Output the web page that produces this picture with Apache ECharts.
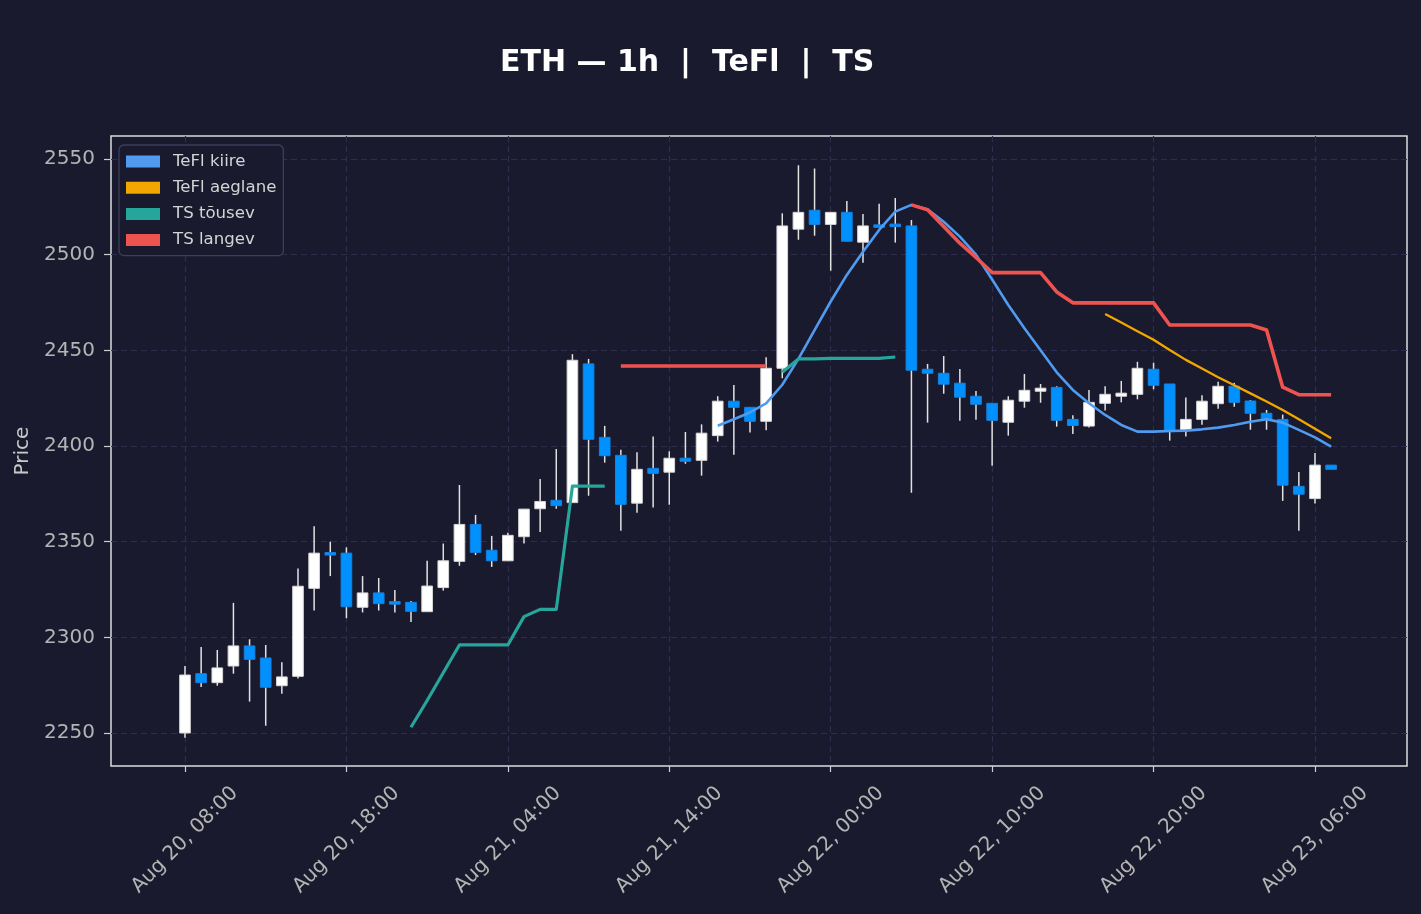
<!DOCTYPE html>
<html>
<head>
<meta charset="utf-8">
<title>ETH 1h TeFl TS</title>
<script src="https://cdn.jsdelivr.net/npm/echarts/dist/echarts.min.js"></script>
<style>
  html, body { margin: 0; padding: 0; background: #1a1a2e; }
  #chart { width: 1421px; height: 914px; }
</style>
</head>
<body>
<div id="chart"></div>
<script>
"use strict";

// hour 0 = Aug 20, 08:00 ; one candle per hour
var candleOpen = [
  2250, 2281, 2276.3, 2285, 2295.5, 2289.2, 2274.7, 2279.6, 2325.6, 2344,
  2344, 2315.7, 2323.2, 2318.4, 2318.3, 2313.4, 2326, 2339.7, 2359, 2345.5,
  2340, 2352.6, 2367.2, 2371.6, 2370.4, 2442.9, 2404.5, 2395.1, 2370.1, 2388.3,
  2386.3, 2393.6, 2392.5, 2405.4, 2423.4, 2420.2, 2412.9, 2440.6, 2513.3, 2523.2,
  2515.8, 2522.1, 2506.5, 2515.2, 2515.6, 2515, 2440.1, 2438, 2432.8, 2426,
  2422.3, 2412.4, 2423.4, 2428.6, 2430.6, 2413.9, 2410.4, 2422.3, 2426, 2427,
  2440.1, 2432.4, 2408.4, 2413.9, 2422.1, 2431.2, 2423.5, 2417.1, 2413.9, 2378.9,
  2372.5, 2390
];
var candleClose = [
  2280.3, 2276.3, 2284, 2295.5, 2288.5, 2273.9, 2279.3, 2326.7, 2344, 2343.3,
  2316, 2323.2, 2317.6, 2317.6, 2313.6, 2326.8, 2340, 2359, 2344.4, 2340,
  2353.3, 2367, 2371, 2368.8, 2444.8, 2403.5, 2394.9, 2369.5, 2387.8, 2385.7,
  2393.6, 2392, 2406.7, 2423.4, 2420.2, 2412.9, 2440.6, 2515, 2522.1, 2515.8,
  2522.1, 2507, 2515, 2514.6, 2515, 2439.6, 2438, 2432.3, 2425.5, 2421.8,
  2413.4, 2423.9, 2429.1, 2430.2, 2413.4, 2410.7, 2422.8, 2427, 2427.6, 2440.6,
  2431.7, 2407.5, 2413.9, 2423.4, 2431.2, 2422.8, 2417.1, 2413.9, 2379.5, 2374.8,
  2390, 2387.8
];
var candleLow = [
  2247.5, 2274, 2274.7, 2281, 2266.4, 2253.8, 2270.5, 2278.5, 2314, 2332,
  2310, 2313, 2314, 2313, 2308, 2313.4, 2324.4, 2337.4, 2343, 2336.8,
  2340, 2349, 2355, 2367.2, 2370.4, 2374, 2391.3, 2355.7, 2365.1, 2367.8,
  2369.3, 2390.7, 2384.5, 2402.3, 2395.4, 2407, 2408.2, 2435.4, 2507.8, 2509.9,
  2491.6, 2507, 2495.8, 2514.6, 2506.3, 2375.6, 2412.2, 2427.3, 2413.2, 2413.7,
  2389.7, 2405.4, 2420, 2422.6, 2410.1, 2406.3, 2409.6, 2418.5, 2422.8, 2424.4,
  2429.6, 2402.8, 2404.9, 2411.1, 2419.5, 2420.5, 2408.5, 2408.5, 2371.3, 2355.7,
  2369.9, 2387.8
];
var candleHigh = [
  2285, 2295, 2293.4, 2318, 2299, 2296, 2287, 2336, 2358, 2350,
  2347, 2332, 2331, 2324.7, 2319, 2340, 2349, 2379.6, 2364, 2353,
  2354.7, 2367, 2382.8, 2398.4, 2448, 2445.5, 2410.5, 2398, 2396.7, 2405,
  2397.2, 2407.3, 2411.3, 2426, 2431.9, 2420.2, 2446.4, 2521.6, 2546.7, 2545,
  2522.1, 2528, 2521.3, 2526.6, 2529.6, 2518.1, 2442.9, 2447, 2440.2, 2428.7,
  2422.3, 2426, 2437.6, 2432.4, 2431.2, 2416, 2429.3, 2431.2, 2434, 2444,
  2443.5, 2432.4, 2425.3, 2426.5, 2433.6, 2433, 2424, 2418.8, 2416.4, 2386.4,
  2396.3, 2390
];

// TeFl kiire from hour 33
var fastStart = 33;
var fastLine = [
  2410.6, 2414, 2417.5, 2422.3, 2432, 2445.5, 2460.6, 2475.5, 2489.4, 2501.5,
  2512.9, 2522.5, 2526, 2523.7, 2517.2, 2509.4, 2500, 2487, 2473.7, 2461.5,
  2450, 2438.5, 2429.3, 2422.3, 2416.2, 2411, 2407.5, 2407.5, 2407.8, 2408,
  2408.7, 2409.6, 2411, 2412.7, 2414, 2412.2, 2408.4, 2404.5, 2399.6
];
// TeFl aeglane from hour 57
var slowStart = 57;
var slowLine = [
  2469, 2464.5, 2460, 2455.5, 2450.2, 2445, 2440.5, 2435.9, 2431.7, 2427.5,
  2423.2, 2418.8, 2414, 2409, 2404
];
// TS tõusev from hour 14 (null = no value)
var tsUpStart = 14;
var tsUp = [
  2253, 2267, 2281.5, 2296, 2296, 2296, 2296, 2310.8, 2314.6, 2314.6,
  2379, 2379, 2379, null, null, null, null, null, null, null,
  null, null, null, 2438.5, 2445.5, 2445.5, 2445.8, 2445.8, 2445.8, 2445.8,
  2446.5
];
// TS langev from hour 27
var tsDownStart = 27;
var tsDown = [
  2441.8, 2441.8, 2441.8, 2441.8, 2441.8, 2441.8, 2441.8, 2441.8, 2441.8, 2441.8,
  null, null, null, null, null, null, null, null, 2526, 2523.4,
  2514.7, 2506, 2498.5, 2490.6, 2490.6, 2490.6, 2490.6, 2480.5, 2474.8, 2474.8,
  2474.8, 2474.8, 2474.8, 2474.8, 2463.2, 2463.2, 2463.2, 2463.2, 2463.2, 2463.2,
  2460.6, 2430.7, 2426.8, 2426.8, 2426.8
];

var xTickHours = [0, 10, 20, 30, 40, 50, 60, 70];
var xTickLabels = [
  "Aug 20, 08:00", "Aug 20, 18:00", "Aug 21, 04:00", "Aug 21, 14:00",
  "Aug 22, 00:00", "Aug 22, 10:00", "Aug 22, 20:00", "Aug 23, 06:00"
];
var yTicks = [2250, 2300, 2350, 2400, 2450, 2500, 2550];

var FONT = "DejaVu Sans";
var UP_COLOR = "#ffffff";
var DOWN_COLOR = "#0091ff";
var WICK_COLOR = "#e2e2e2";

function toPairs(start, values) {
  return values.map(function (v, i) {
    return [start + i, v];
  });
}

var candleData = candleOpen.map(function (o, i) {
  return [i, o, candleClose[i], candleLow[i], candleHigh[i]];
});

function renderCandle(params, api) {
  var x = api.value(0);
  var o = api.value(1);
  var c = api.value(2);
  var pO = api.coord([x, o]);
  var pC = api.coord([x, c]);
  var pL = api.coord([x, api.value(3)]);
  var pH = api.coord([x, api.value(4)]);
  var w = api.size([1, 0])[0] * 0.66;
  var up = c > o;
  var top = Math.min(pO[1], pC[1]);
  var h = Math.abs(pO[1] - pC[1]);
  if (h < 2.5) {
    top = (pO[1] + pC[1]) / 2 - 1.25;
    h = 2.5;
  }
  return {
    type: "group",
    children: [{
      type: "line",
      shape: { x1: pH[0], y1: pH[1], x2: pL[0], y2: pL[1] },
      style: { stroke: WICK_COLOR, lineWidth: 1.5 }
    }, {
      type: "rect",
      shape: { x: pO[0] - w / 2, y: top, width: w, height: h },
      style: {
        fill: up ? UP_COLOR : DOWN_COLOR,
        stroke: up ? "#d6d6d6" : "#1580e0",
        lineWidth: 1
      }
    }]
  };
}

function lineSeries(name, color, width, data) {
  return {
    name: name,
    type: "line",
    data: data,
    showSymbol: false,
    symbol: "none",
    connectNulls: false,
    z: 4,
    color: color,
    itemStyle: { color: color },
    lineStyle: { color: color, width: width, cap: "butt", join: "round" },
    emphasis: { disabled: true }
  };
}

var chart = echarts.init(document.getElementById("chart"), null, { renderer: "canvas" });

var option = {
  backgroundColor: "#1a1a2e",
  animation: false,
  title: {
    text: "ETH \u2014 1h  |  TeFl  |  TS",
    left: 500,
    top: 48,
    padding: 0,
    textStyle: { color: "#ffffff", fontFamily: FONT, fontWeight: "bold", fontSize: 30 }
  },
  legend: {
    orient: "vertical",
    left: 119,
    top: 145,
    padding: [8, 7, 7, 7],
    itemWidth: 34,
    itemHeight: 12,
    itemGap: 9.2,
    icon: "rect",
    backgroundColor: "#1a1a2e",
    borderColor: "#3d3d5c",
    borderWidth: 1.3,
    borderRadius: 5,
    data: ["TeFl kiire", "TeFl aeglane", "TS t\u00f5usev", "TS langev"],
    textStyle: { color: "#d4d4d4", fontFamily: FONT, fontSize: 16.6, padding: [0, 0, 0, 8] }
  },
  grid: {
    left: 111,
    right: 14,
    top: 136,
    bottom: 148,
    show: true,
    borderColor: "#dcdcdc",
    borderWidth: 1.5,
    backgroundColor: "transparent",
    containLabel: false,
    outerBoundsMode: "none"
  },
  xAxis: {
    type: "value",
    min: -4.584,
    max: 75.7,
    axisLine: { show: false, onZero: false },
    axisTick: { show: true, length: 6, customValues: xTickHours, lineStyle: { color: "#cfcfcf", width: 1.2 } },
    axisLabel: {
      customValues: xTickHours,
      rotate: 45,
      align: "center",
      verticalAlign: "middle",
      margin: 74,
      color: "#b4b4b4",
      fontFamily: FONT,
      fontSize: 20,
      formatter: function (v) {
        return xTickLabels[Math.round(v / 10)];
      }
    },
    splitLine: { show: true, lineStyle: { color: "#2e2e4c", width: 1.2, type: [6, 4] } }
  },
  yAxis: {
    type: "value",
    min: 2232.75,
    max: 2562,
    name: "Price",
    nameLocation: "middle",
    nameGap: 64,
    nameTextStyle: { color: "#c8c8c8", fontFamily: FONT, fontSize: 20 },
    axisLine: { show: false, onZero: false },
    axisTick: { show: true, length: 7, customValues: yTicks, lineStyle: { color: "#cfcfcf", width: 1.2 } },
    axisLabel: {
      customValues: yTicks,
      margin: 16,
      color: "#b4b4b4",
      fontFamily: FONT,
      fontSize: 20,
      formatter: function (v) {
        return String(v);
      }
    },
    splitLine: { show: true, lineStyle: { color: "#2e2e4c", width: 1.2, type: [6, 4] } }
  },
  series: [{
    name: "candles",
    type: "custom",
    renderItem: renderCandle,
    data: candleData,
    encode: { x: 0, y: [1, 2, 3, 4] },
    z: 2,
    silent: true
  },
    lineSeries("TeFl kiire", "#509bf0", 2.6, toPairs(fastStart, fastLine)),
    lineSeries("TeFl aeglane", "#f2a600", 2.3, toPairs(slowStart, slowLine)),
    lineSeries("TS t\u00f5usev", "#26a69a", 3.2, toPairs(tsUpStart, tsUp)),
    lineSeries("TS langev", "#ef5350", 3.6, toPairs(tsDownStart, tsDown))
  ]
};

chart.setOption(option);
</script>
</body>
</html>
